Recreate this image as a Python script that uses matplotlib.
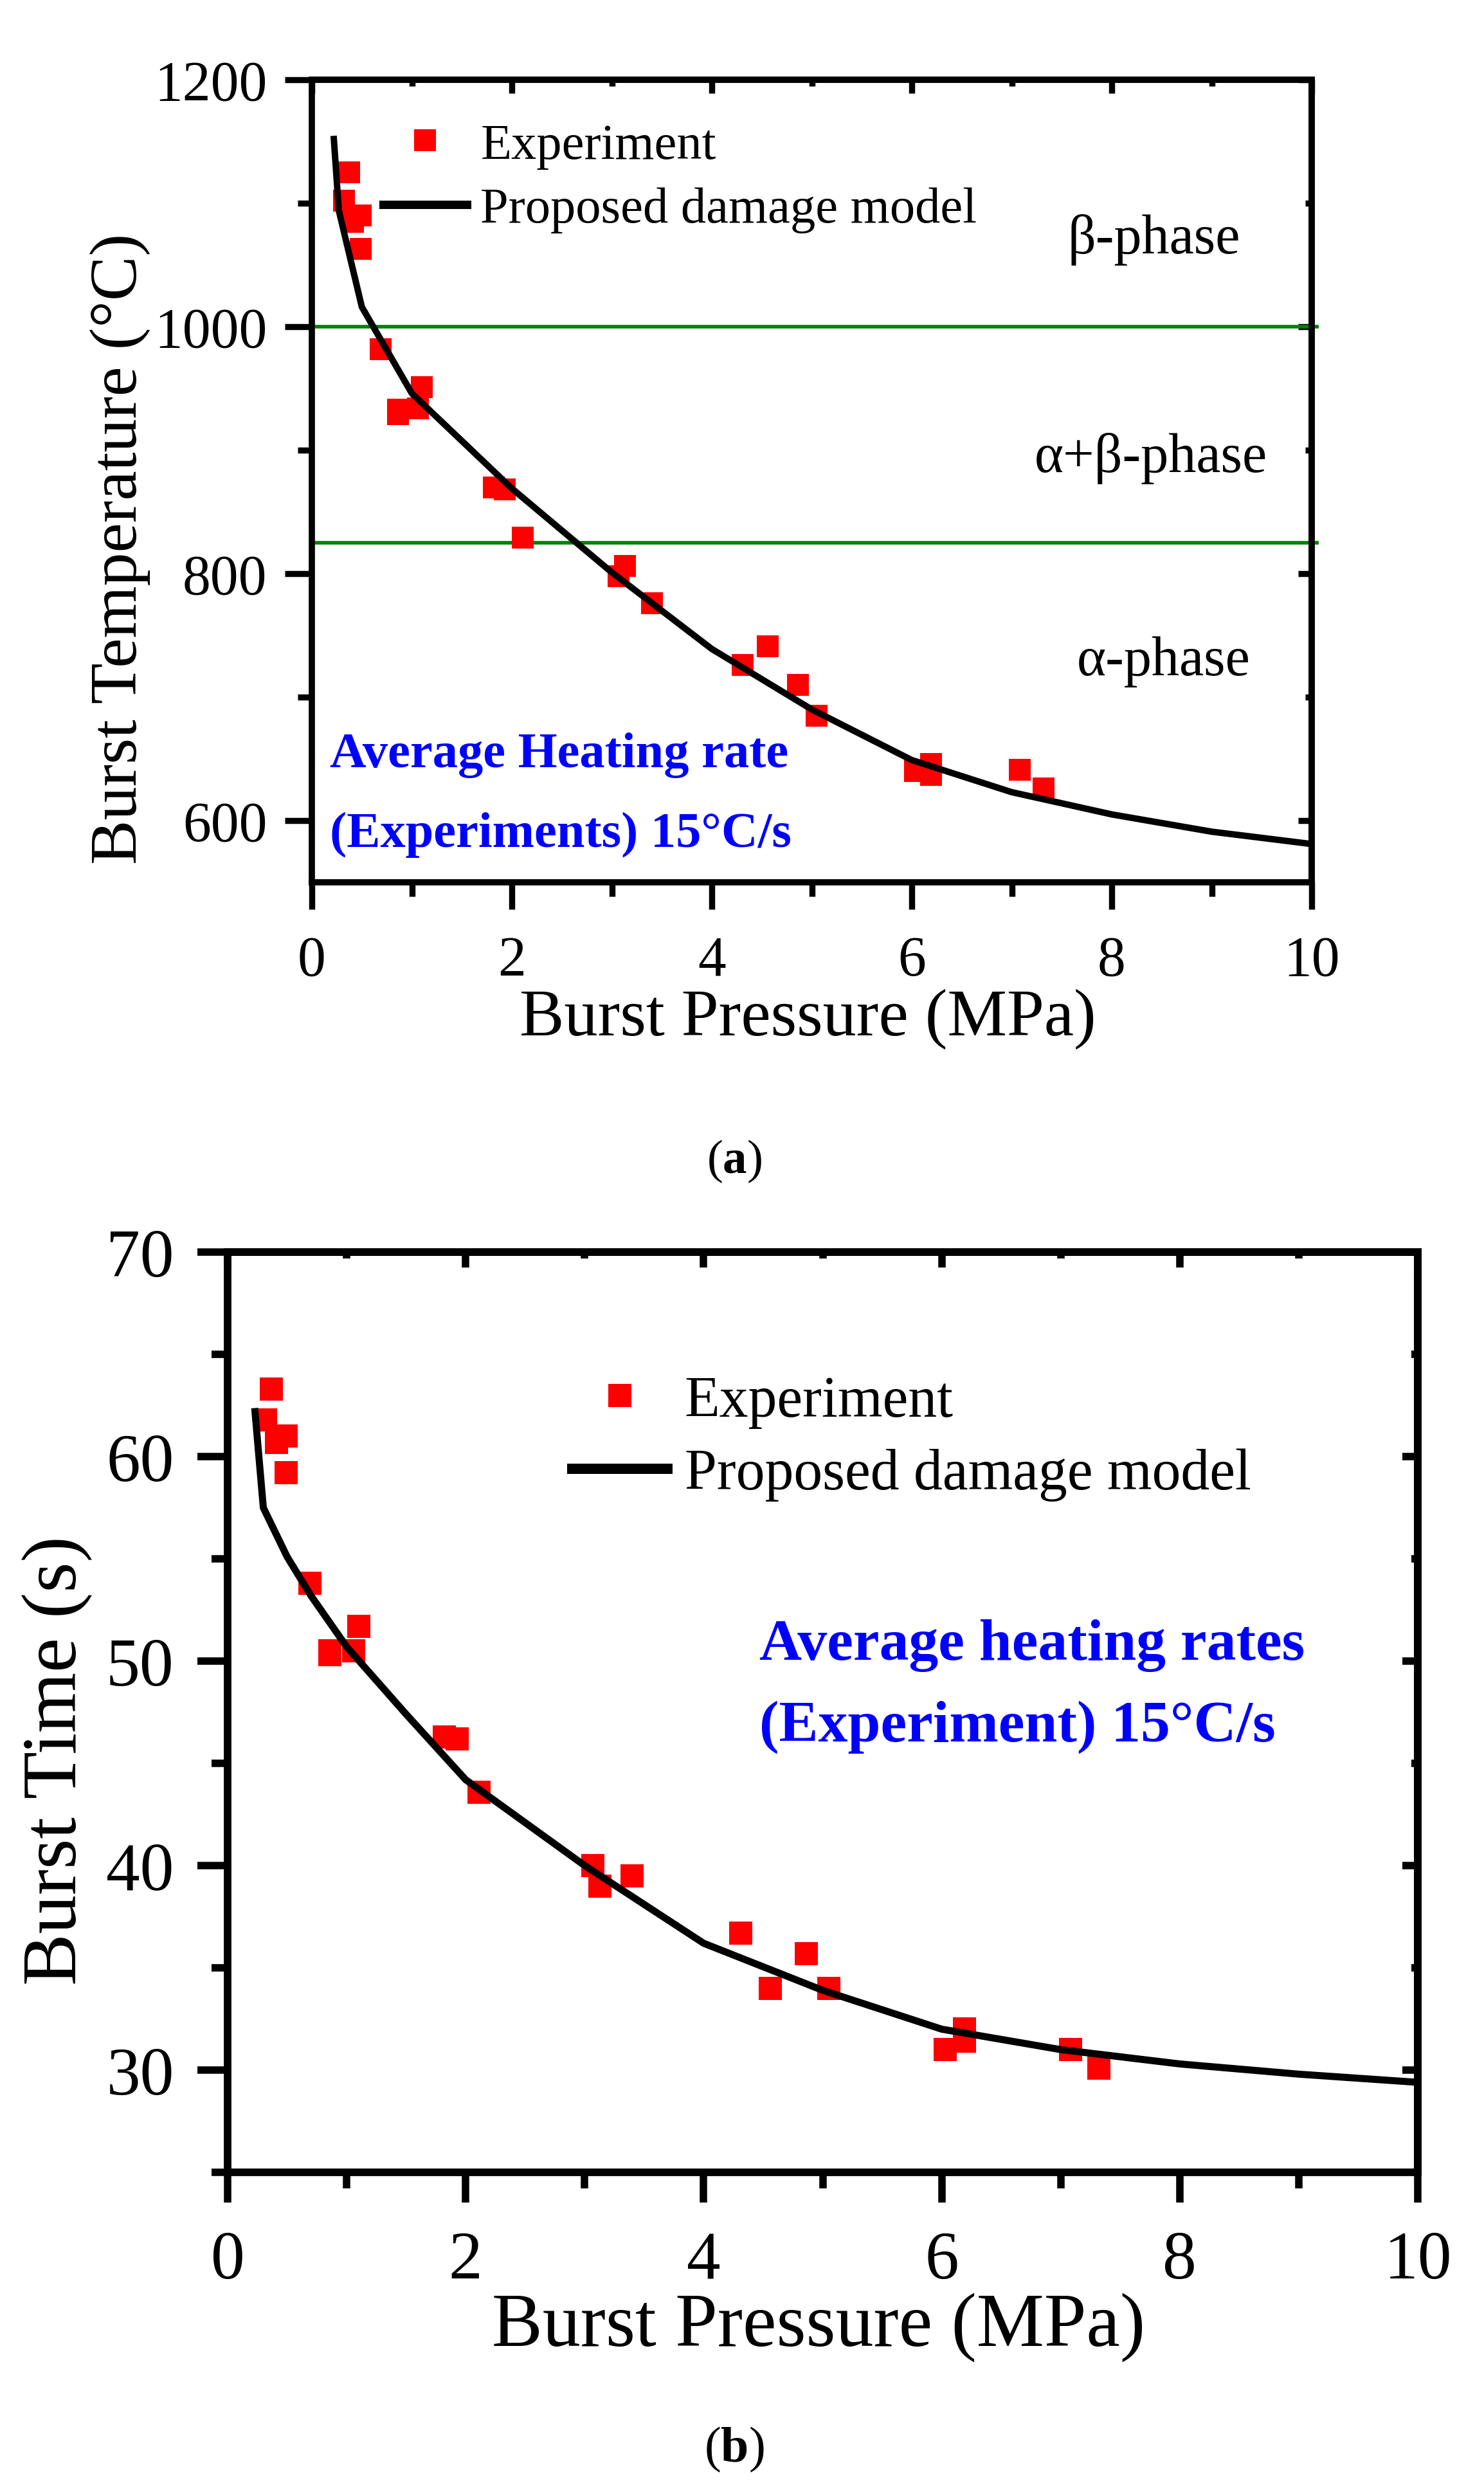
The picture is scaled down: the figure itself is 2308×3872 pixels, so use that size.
import matplotlib
matplotlib.use("Agg")
import matplotlib.pyplot as plt
from matplotlib.ticker import MultipleLocator

plt.rcParams['font.family'] = ['Liberation Serif', 'DejaVu Serif']
plt.rcParams['mathtext.fontset'] = 'custom'
plt.rcParams['mathtext.rm'] = 'Liberation Serif'
plt.rcParams['mathtext.bf'] = 'Liberation Serif:bold'

W, H = 2308, 3873

# experiments (burst pressure in MPa)
pressure = [0.37, 0.32, 0.49, 0.41, 0.49, 0.69, 0.86, 0.86, 1.06, 1.10, 1.82, 1.93, 2.11,
            3.07, 3.13, 3.40, 4.31, 4.56, 4.86, 5.05, 6.03, 6.19, 6.19, 7.08, 7.32]
temperature = [1125, 1102, 1090, 1085, 1063, 982, 933, 929, 934, 951, 870, 868, 829,
               798, 806, 776, 726, 741, 710, 685, 640, 646, 637, 641, 626]
burst_time = [63.3, 61.8, 61.0, 60.7, 59.2, 53.8, 50.5, 50.3, 50.5, 51.7, 46.3, 46.2, 43.6,
              40.0, 39.0, 39.5, 36.7, 34.0, 35.7, 34.0, 31.0, 32.0, 31.4, 31.0, 30.1]

# proposed damage model
model_p_temp = [0.22, 0.27, 0.5, 1.0, 2.0, 3.0, 4.0, 5.0, 6.0, 7.0, 8.0, 9.0, 10.0]
model_temp = [1152, 1094, 1016, 946, 869, 801, 739, 690, 649, 623, 605, 591, 581]
model_p_time = [0.23, 0.30, 0.5, 0.7, 1.0, 1.5, 2.0, 3.0, 4.0, 5.0, 6.0, 7.0, 8.0, 9.0, 10.0]
model_time = [62.2, 57.5, 55.1, 53.2, 50.7, 47.4, 44.2, 40.0, 36.2, 33.9, 32.0, 31.0, 30.3, 29.8, 29.4]

phase_lines = [1000, 825]
phase_labels = ['\u03b2-phase', '\u03b1+\u03b2-phase', '\u03b1-phase']
phase_pos = [(8.42, 1060), (8.39, 883), (8.52, 718)]


def px_axes(left, top, right, bottom):
    return [left / W, 1 - bottom / H, (right - left) / W, (bottom - top) / H]


def style_axes(ax, xmaj, xmin, ymaj, ymin, lw, tw, lmaj, lmin, imaj, imin, fs, xpad, ypad):
    for s in ax.spines.values():
        s.set_linewidth(lw)
    ax.xaxis.set_major_locator(MultipleLocator(xmaj))
    ax.xaxis.set_minor_locator(MultipleLocator(xmin))
    ax.yaxis.set_major_locator(MultipleLocator(ymaj))
    ax.yaxis.set_minor_locator(MultipleLocator(ymin))
    ax.tick_params(which='both', direction='out', width=tw, top=False, right=False)
    ax.tick_params(which='major', length=lmaj, labelsize=fs)
    ax.tick_params(which='minor', length=lmin)
    ax.tick_params(axis='x', pad=xpad)
    ax.tick_params(axis='y', pad=ypad)
    # mirrored ticks, pointing inwards and shorter
    top = ax.secondary_xaxis('top')
    top.xaxis.set_major_locator(MultipleLocator(xmaj))
    top.xaxis.set_minor_locator(MultipleLocator(xmin))
    top.tick_params(which='both', direction='in', width=tw, labeltop=False)
    top.tick_params(which='major', length=imaj)
    top.tick_params(which='minor', length=imin)
    top.spines['top'].set_linewidth(lw)
    right = ax.secondary_yaxis('right')
    right.yaxis.set_major_locator(MultipleLocator(ymaj))
    right.yaxis.set_minor_locator(MultipleLocator(ymin))
    right.tick_params(which='both', direction='in', width=tw, labelright=False)
    right.tick_params(which='major', length=imaj)
    right.tick_params(which='minor', length=imin)
    right.spines['right'].set_linewidth(lw)


fig = plt.figure(figsize=(W / 100, H / 100), dpi=100)

# ---- (a) burst temperature
axA = fig.add_axes(px_axes(485, 125, 2040, 1373))
axA.hlines(phase_lines, 0.03, 10.07, colors='#008000', lw=4, clip_on=False, zorder=1)
axA.plot(pressure, temperature, 's', color='#FF0000', ms=23.8, mew=0, label='Experiment', zorder=2)
axA.plot(model_p_temp, model_temp, '-', color='black', lw=7.2, label='Proposed damage model', zorder=3)
axA.set_xlim(0, 10)
axA.set_ylim(550, 1200)
style_axes(axA, 2, 1, 200, 100, 7, 6.8, 30, 16, 15, 7.5, 63, 29, 20)
axA.set_xlabel('Burst Pressure (MPa)', fontsize=75, va='baseline')
axA.xaxis.set_label_coords(0.496, -0.190)
axA.set_ylabel('Burst Temperature (\u00b0C)', fontsize=75, va='baseline')
axA.yaxis.set_label_coords(-0.1756, 0.4167)
legA = axA.legend(loc='upper left', bbox_to_anchor=(0.0714, 0.9463), frameon=False, fontsize=56.5,
                  handlelength=1.66, handletextpad=0.27, labelspacing=0.35, borderpad=0,
                  borderaxespad=0, numpoints=1)
legA.get_lines()[1].set_linewidth(9.4)
for (x, y), t in zip(phase_pos, phase_labels):
    axA.text(x, y, t, fontsize=62, ha='center', va='baseline')
axA.text(0.18, 644, 'Average Heating rate', fontsize=56.5, fontweight='bold', color='#0000FF', va='baseline')
axA.text(0.18, 579, '(Experiments) 15\u00b0C/s', fontsize=56.5, fontweight='bold', color='#0000FF', va='baseline')
fig.text(0.4948, 0.529, r'($\mathbf{a}$)', fontsize=54, ha='center', va='baseline')

# ---- (b) burst time
axB = fig.add_axes(px_axes(354, 1948, 2205, 3379))
axB.plot(pressure, burst_time, 's', color='#FF0000', ms=26.6, mew=0, label='Experiment', zorder=2)
axB.plot(model_p_time, model_time, '-', color='black', lw=7.9, label='Proposed damage model', zorder=3)
axB.set_xlim(0, 10)
axB.set_ylim(25, 70)
style_axes(axB, 2, 1, 10, 5, 8.5, 8.3, 34, 18, 17, 7.5, 76, 31.5, 26)
axB.set_xlabel('Burst Pressure (MPa)', fontsize=85, va='baseline')
axB.xaxis.set_label_coords(0.4965, -0.188)
axB.set_ylabel('Burst Time (s)', fontsize=87, va='baseline')
axB.yaxis.set_label_coords(-0.1275, 0.448)
legB = axB.legend(loc='upper left', bbox_to_anchor=(0.2896, 0.8665), frameon=False, fontsize=64.5,
                  handlelength=1.65, handletextpad=0.30, labelspacing=0.35, borderpad=0,
                  borderaxespad=0, numpoints=1)
legB.get_lines()[1].set_linewidth(11.5)
axB.text(4.47, 50.09, 'Average heating rates', fontsize=66, fontweight='bold', color='#0000FF', va='baseline')
axB.text(4.47, 46.13, '(Experiment) 15\u00b0C/s', fontsize=66, fontweight='bold', color='#0000FF', va='baseline')
fig.text(0.4948, 0.01162, r'($\mathbf{b}$)', fontsize=56, ha='center', va='baseline')

fig.savefig('out.png', dpi=100)
